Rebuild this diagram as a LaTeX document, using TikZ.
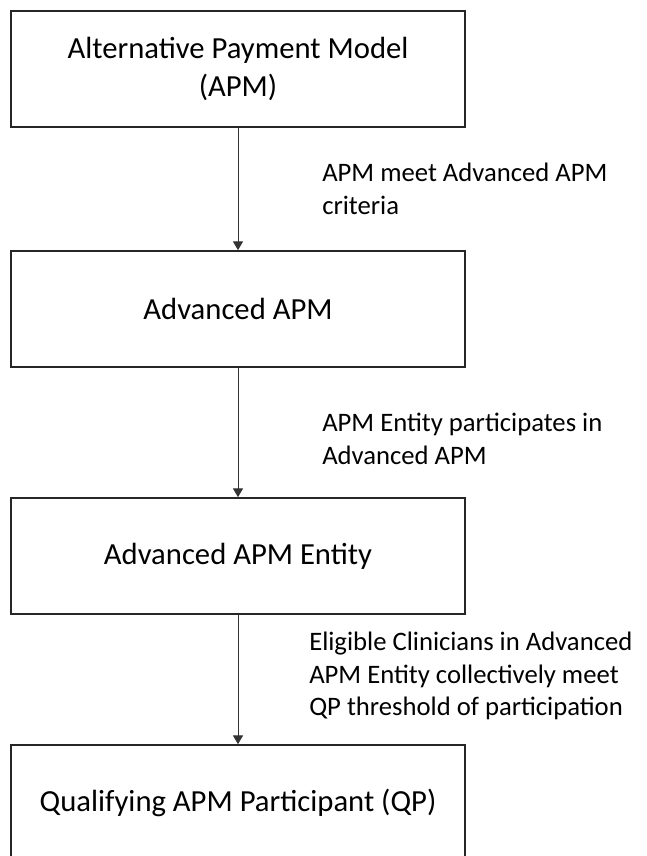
\documentclass[tikz,border=0pt]{standalone}
\usepackage{fontspec}
\setmainfont{Carlito}
\usetikzlibrary{arrows.meta}
\begin{document}
\begin{tikzpicture}[x=0.75pt,y=-0.75pt,
  box/.style={draw=black!85,line width=1.3pt,minimum width=340.5pt,minimum height=87pt,inner sep=0pt,align=center,font=\fontsize{23}{28}\selectfont},
  lbl/.style={anchor=west,inner sep=0pt,align=left,font=\fontsize{20}{24.4}\selectfont},
  arr/.style={draw=black!80,line width=0.6pt,-{Triangle[length=6.5pt,width=7.5pt]}}]
\clip (0,0) rectangle (646,856);
\fill[white] (0,0) rectangle (646,856);
\node[box] (b1) at (238,69) {Alternative Payment Model\\(APM)};
\node[box] (b2) at (238,309) {Advanced APM};
\node[box] (b3) at (238,556) {Advanced APM Entity};
\node[box] (b4) at (238,803) {Qualifying APM Participant (QP)};
\draw[arr] (b1) -- (b2);
\draw[arr] (b2) -- (b3);
\draw[arr] (b3) -- (b4);
\node[lbl] (l1) at (322,189) {APM meet Advanced APM\\criteria};
\node[lbl] (l2) at (322,439) {APM Entity participates in\\Advanced APM};
\node[lbl] (l3) at (309,676) {Eligible Clinicians in Advanced\\APM Entity collectively meet\\QP threshold of participation};
\end{tikzpicture}
\end{document}
